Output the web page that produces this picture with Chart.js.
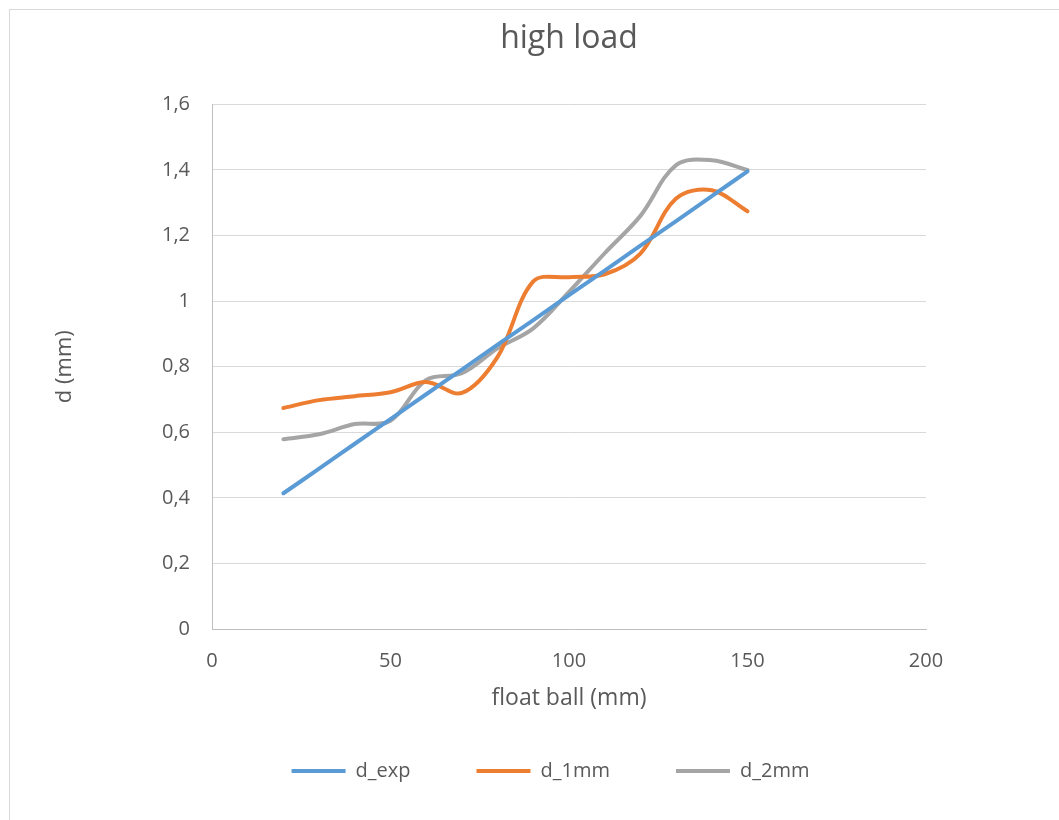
<!DOCTYPE html>
<html>
<head>
<meta charset="utf-8">
<title>high load</title>
<script src="https://cdn.jsdelivr.net/npm/chart.js@4.4.1/dist/chart.umd.min.js"></script>
<style>
html,body{margin:0;padding:0;background:#fff;overflow:hidden}
#wrap{position:relative;width:1059px;height:820px}
#frame{position:absolute;left:9px;top:9px;width:1200px;height:1000px;border:1px solid #d9d9d9}
canvas{position:absolute;left:0;top:0}
</style>
</head>
<body>
<div id="wrap"><div id="frame"></div><canvas id="chart" width="1059" height="820"></canvas></div>
<script>
// float ball (mm)
const floatBall = [20, 30, 40, 50, 60, 70, 80, 90, 100, 110, 120, 130, 140, 150];
// d (mm)
const dExp = [0.414, 0.489, 0.565, 0.640, 0.716, 0.791, 0.867, 0.942, 1.018, 1.093, 1.169, 1.244, 1.320, 1.396];
const d1mm = [0.674, 0.698, 0.71, 0.722, 0.753, 0.72, 0.83, 1.06, 1.073, 1.082, 1.145, 1.313, 1.338, 1.274];
const d2mm = [0.579, 0.594, 0.625, 0.635, 0.76, 0.78, 0.856, 0.917, 1.028, 1.146, 1.26, 1.415, 1.43, 1.40];

const seriesNames = ['d_exp', 'd_1mm', 'd_2mm'];
const seriesColors = ['#5b9bd5', '#ed7d31', '#a5a5a5'];
const xTicks = [0, 50, 100, 150, 200];
const yTicks = [0, 0.2, 0.4, 0.6, 0.8, 1, 1.2, 1.4, 1.6];

const FONT = "'Open Sans', 'DejaVu Sans', sans-serif";
const TEXT = '#595959';

function pts(ys){ return floatBall.map((x,i)=>({x:x, y:ys[i]})); }

const datasets = [dExp, d1mm, d2mm].map((ys,i)=>({
  label: seriesNames[i],
  data: pts(ys),
  borderColor: seriesColors[i],
  backgroundColor: seriesColors[i],
  borderWidth: 4,
  borderCapStyle: 'round',
  borderJoinStyle: 'round',
  pointRadius: 0,
  tension: 0.35,
  fill: false
}));

new Chart(document.getElementById('chart'), {
  type: 'line',
  data: { datasets },
  options: {
    responsive: false,
    animation: false,
    layout: { padding: { top: 12, left: 42, right: 0, bottom: 29 } },
    scales: {
      x: {
        type: 'linear',
        min: xTicks[0], max: xTicks[xTicks.length-1],
        afterBuildTicks: s => { s.ticks = xTicks.map(v=>({value:v})); },
        afterFit: s => { s.height = 66; },
        grid: { display: false, drawTicks: false },
        border: { display: true, color: '#bfbfbf', width: 1 },
        ticks: { color: TEXT, font: { family: FONT, size: 20 }, padding: 20 },
        title: { display: true, text: 'float ball (mm)', color: TEXT,
                 font: { family: FONT, size: 23 }, padding: { top: 0, bottom: -17 } }
      },
      y: {
        min: yTicks[0], max: yTicks[yTicks.length-1],
        afterBuildTicks: s => { s.ticks = yTicks.map(v=>({value:v})); },
        afterFit: s => { s.width = 170; },
        grid: { color: '#d9d9d9', lineWidth: 1, drawTicks: false },
        border: { display: true, color: '#bfbfbf', width: 1 },
        ticks: { color: TEXT, font: { family: FONT, size: 20 }, padding: 22,
                 callback: v => String(Math.round(v*10)/10).replace('.', ',') },
        title: { display: true, text: 'd (mm)', color: TEXT,
                 font: { family: FONT, size: 22 }, padding: { top: 10, bottom: 0 } }
      },
      y2: {
        position: 'right',
        display: true,
        afterFit: s => { s.width = 133; },
        grid: { display: false, drawTicks: false },
        border: { display: false },
        ticks: { display: false }
      }
    },
    plugins: {
      title: {
        display: true, text: 'high load', fullSize: false, color: TEXT,
        font: { family: FONT, size: 32, weight: 'normal' },
        padding: { top: 8, bottom: 46 }
      },
      legend: {
        position: 'bottom',
        maxHeight: 125,
        labels: {
          usePointStyle: true, pointStyle: 'line', pointStyleWidth: 54,
          padding: 66, color: TEXT, font: { family: FONT, size: 20 }
        }
      },
      tooltip: { enabled: false }
    }
  }
});
</script>
</body>
</html>
